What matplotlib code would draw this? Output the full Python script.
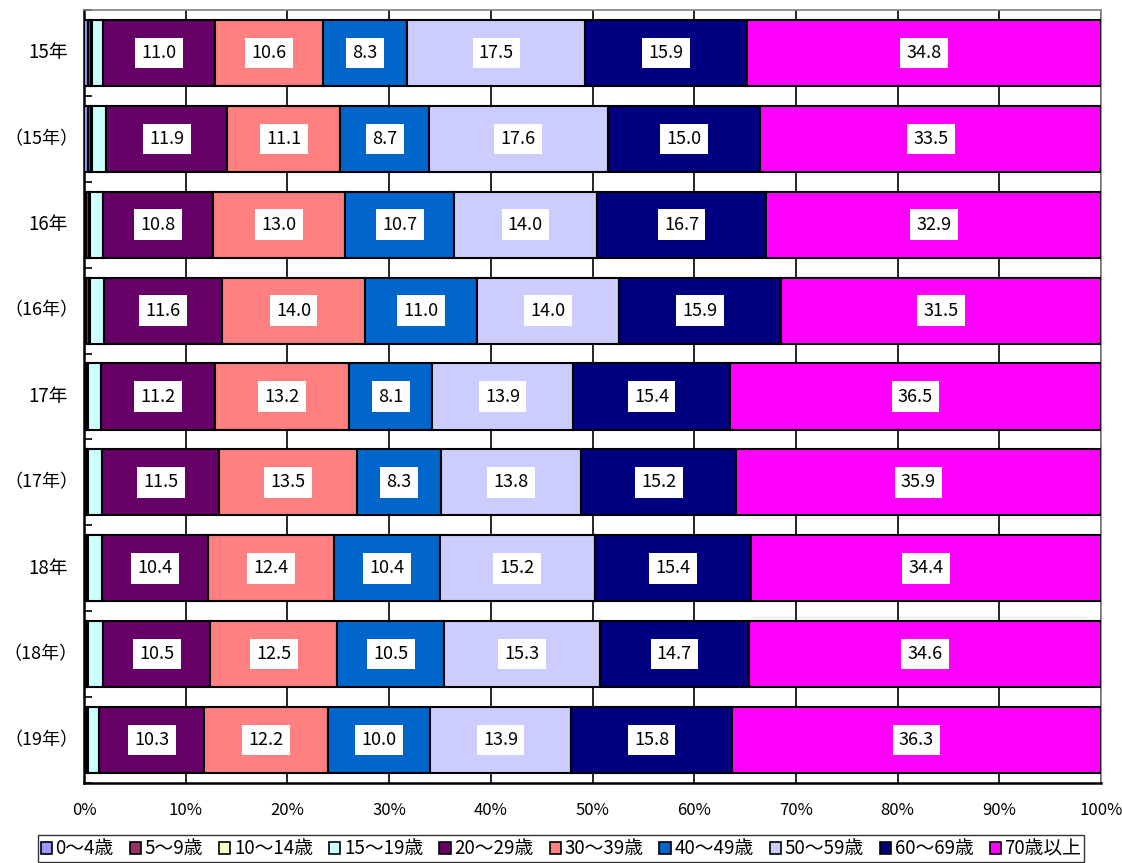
import matplotlib
matplotlib.use("Agg")
import matplotlib.pyplot as plt
import matplotlib.transforms as mtransforms
from matplotlib.patches import Patch
import numpy as np

plt.rcParams['font.family'] = ['Noto Sans CJK JP', 'DejaVu Sans']

# rows from top to bottom
years = ['15年', '（15年）', '16年', '（16年）', '17年', '（17年）', '18年', '（18年）', '（19年）']

ages = ['0～4歳', '5～9歳', '10～14歳', '15～19歳', '20～29歳', '30～39歳',
        '40～49歳', '50～59歳', '60～69歳', '70歳以上']
colors = ['#9999FF', '#993366', '#FFFFCC', '#CCFFFF', '#660066', '#FF8080',
          '#0066CC', '#CCCCFF', '#000080', '#FF00FF']

# percent shares per age group (one list per age group, one value per row)
a0_4 = [0.4, 0.4, 0.2, 0.2, 0.1, 0.1, 0.1, 0.1, 0.1]
a5_9 = [0.3, 0.3, 0.3, 0.3, 0.2, 0.2, 0.2, 0.2, 0.2]
a10_14 = [0.1, 0.1, 0.1, 0.1, 0.1, 0.1, 0.1, 0.1, 0.1]
a15_19 = [1.1, 1.4, 1.3, 1.4, 1.3, 1.4, 1.4, 1.5, 1.1]
a20_29 = [11.0, 11.9, 10.8, 11.6, 11.2, 11.5, 10.4, 10.5, 10.3]
a30_39 = [10.6, 11.1, 13.0, 14.0, 13.2, 13.5, 12.4, 12.5, 12.2]
a40_49 = [8.3, 8.7, 10.7, 11.0, 8.1, 8.3, 10.4, 10.5, 10.0]
a50_59 = [17.5, 17.6, 14.0, 14.0, 13.9, 13.8, 15.2, 15.3, 13.9]
a60_69 = [15.9, 15.0, 16.7, 15.9, 15.4, 15.2, 15.4, 14.7, 15.8]
a70 = [34.8, 33.5, 32.9, 31.5, 36.5, 35.9, 34.4, 34.6, 36.3]

series = [a0_4, a5_9, a10_14, a15_19, a20_29, a30_39, a40_49, a50_59, a60_69, a70]
labeled = [False, False, False, False, True, True, True, True, True, True]

fig = plt.figure(figsize=(11.22, 8.63), dpi=100)
ax = fig.add_axes([0.0749, 0.0927, 0.9064, 0.8957])

y = np.arange(len(years))
left = np.zeros(len(years))
for vals, col, lab, show in zip(series, colors, ages, labeled):
    vals = np.array(vals)
    ax.barh(y, vals, left=left, height=0.77, color=col, edgecolor='black',
            linewidth=1.5, zorder=3, label=lab)
    if show:
        for yi, l, v in zip(y, left, vals):
            ax.text(l + v / 2, yi, f'{v:.1f}', ha='center', va='center',
                    fontsize=13, color='black', zorder=5,
                    bbox=dict(boxstyle='square,pad=0.35', fc='white', ec='none'))
    left += vals

ax.set_xlim(0, 100)
ax.set_ylim(len(years) - 0.5, -0.5)
ax.set_xticks(np.arange(0, 101, 10))
ax.set_xticklabels([f'{v}%' for v in range(0, 101, 10)], fontsize=12)
ax.set_yticks(y)
ax.set_yticklabels([])
ax.set_yticks(np.arange(-0.5, len(years), 1), minor=True)
ax.tick_params(axis='y', which='major', length=0)
ax.tick_params(axis='y', which='minor', direction='in', length=6, width=1.2)
ax.tick_params(axis='x', which='major', length=0, pad=14)
ax.grid(axis='x', color='black', linewidth=1.2, zorder=0)
ax.set_axisbelow(True)

# row labels: full-width brackets carry wide side bearings, so centre those
trans = mtransforms.blended_transform_factory(fig.transFigure, ax.transData)
for yi, name in zip(y, years):
    if name.startswith('（'):
        ax.text(41 / 1122, yi, name, transform=trans, ha='center', va='center',
                fontsize=13)
    else:
        ax.text(68 / 1122, yi, name, transform=trans, ha='right', va='center',
                fontsize=13.5)

for s in ['left', 'bottom']:
    ax.spines[s].set_color('black')
    ax.spines[s].set_linewidth(1.8)
for s in ['top', 'right']:
    ax.spines[s].set_color('#808080')
    ax.spines[s].set_linewidth(1.2)

handles = [Patch(facecolor=c, edgecolor='black', linewidth=1.2) for c in colors]
leg = fig.legend(handles, ages, loc='lower center', bbox_to_anchor=(0.5, 0.0),
                 ncol=10, fontsize=13.5, frameon=True, fancybox=False,
                 handlelength=0.6, handleheight=0.6, handletextpad=0.2,
                 columnspacing=0.85, borderpad=0.15, borderaxespad=0.05)
leg.get_frame().set_edgecolor('black')
leg.get_frame().set_linewidth(1.0)

fig.savefig('out.png', dpi=100)
